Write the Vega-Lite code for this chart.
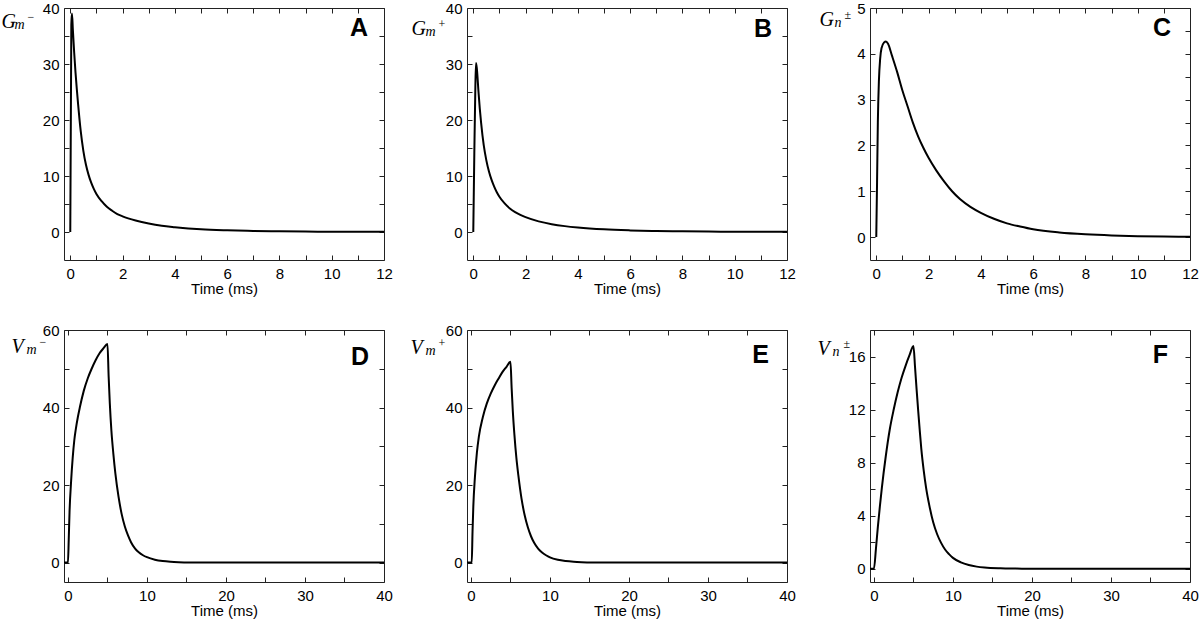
{
  "$schema": "https://vega.github.io/schema/vega-lite/v6.json",
  "background": "white",
  "padding": 0,
  "bounds": "flush",
  "columns": 3,
  "spacing": {"row": 70, "column": 83},
  "config": {
    "view": {"stroke": "#222", "strokeWidth": 1},
    "axis": {"domain": false, "grid": false, "ticks": true, "tickSize": -5, "tickColor": "#222", "tickWidth": 1,
      "labelFont": "Liberation Sans", "labelFontSize": 15, "labelColor": "black", "labelFlush": false, "labelOverlap": false, "titleColor": "black"},
    "axisBottom": {"labelPadding": 11, "titlePadding": 0, "titleFont": "Liberation Sans", "titleFontSize": 15, "titleFontWeight": "normal"},
    "axisLeft": {"labelPadding": 10}
  },
  "datasets": {
    "A": [{"t":0,"v":0},{"t":0.04,"v":37},{"t":0.065,"v":39},{"t":0.1,"v":36},{"t":0.15,"v":32},{"t":0.2,"v":28.5},{"t":0.25,"v":25.5},{"t":0.3,"v":22.8},{"t":0.4,"v":18},{"t":0.5,"v":14.5},{"t":0.6,"v":12},{"t":0.7,"v":10.2},{"t":0.8,"v":8.8},{"t":0.9,"v":7.7},{"t":1.0,"v":6.8},{"t":1.2,"v":5.5},{"t":1.4,"v":4.5},{"t":1.6,"v":3.8},{"t":1.8,"v":3.2},{"t":2.0,"v":2.8},{"t":2.5,"v":2.05},{"t":3.0,"v":1.5},{"t":3.5,"v":1.1},{"t":4.0,"v":0.85},{"t":5,"v":0.48},{"t":6,"v":0.3},{"t":7,"v":0.19},{"t":8,"v":0.12},{"t":9,"v":0.08},{"t":10,"v":0.05},{"t":11,"v":0.035},{"t":12,"v":0.025}],
    "B": [{"t":0,"v":0},{"t":0.04,"v":14},{"t":0.08,"v":26},{"t":0.105,"v":30.2},{"t":0.14,"v":29},{"t":0.2,"v":25},{"t":0.25,"v":22},{"t":0.3,"v":19.5},{"t":0.4,"v":15.5},{"t":0.5,"v":12.8},{"t":0.6,"v":10.8},{"t":0.7,"v":9.3},{"t":0.8,"v":8.1},{"t":0.9,"v":7.1},{"t":1.0,"v":6.3},{"t":1.2,"v":5.1},{"t":1.4,"v":4.2},{"t":1.6,"v":3.55},{"t":1.8,"v":3.05},{"t":2.0,"v":2.65},{"t":2.5,"v":1.9},{"t":3,"v":1.4},{"t":3.5,"v":1.05},{"t":4,"v":0.8},{"t":5,"v":0.47},{"t":6,"v":0.29},{"t":7,"v":0.18},{"t":8,"v":0.12},{"t":9,"v":0.08},{"t":10,"v":0.05},{"t":11,"v":0.035},{"t":12,"v":0.025}],
    "C": [{"t":0,"v":0},{"t":0.03,"v":1.2},{"t":0.06,"v":2.5},{"t":0.1,"v":3.4},{"t":0.15,"v":3.9},{"t":0.2,"v":4.12},{"t":0.3,"v":4.25},{"t":0.37,"v":4.27},{"t":0.45,"v":4.22},{"t":0.6,"v":3.96},{"t":0.8,"v":3.6},{"t":1.0,"v":3.2},{"t":1.2,"v":2.85},{"t":1.4,"v":2.5},{"t":1.6,"v":2.2},{"t":1.8,"v":1.95},{"t":2.0,"v":1.73},{"t":2.3,"v":1.45},{"t":2.6,"v":1.21},{"t":2.9,"v":1.0},{"t":3.2,"v":0.83},{"t":3.6,"v":0.66},{"t":4.0,"v":0.53},{"t":4.5,"v":0.4},{"t":5,"v":0.3},{"t":5.5,"v":0.23},{"t":6,"v":0.17},{"t":7,"v":0.1},{"t":8,"v":0.06},{"t":9,"v":0.035},{"t":10,"v":0.02},{"t":11,"v":0.012},{"t":12,"v":0.007}],
    "D": [{"t":-0.5,"v":0},{"t":0,"v":0},{"t":0.1,"v":6},{"t":0.2,"v":13},{"t":0.4,"v":21},{"t":0.6,"v":27},{"t":0.8,"v":31.5},{"t":1.0,"v":34.5},{"t":1.25,"v":37.5},{"t":1.5,"v":40},{"t":2.0,"v":44.3},{"t":2.5,"v":47.5},{"t":3.0,"v":50},{"t":3.5,"v":52.2},{"t":4.0,"v":54},{"t":4.5,"v":55.3},{"t":5.0,"v":56.4},{"t":5.15,"v":48},{"t":5.3,"v":41},{"t":5.5,"v":34},{"t":5.75,"v":28},{"t":6.0,"v":23},{"t":6.4,"v":17},{"t":6.8,"v":12.5},{"t":7.2,"v":9.3},{"t":7.6,"v":7},{"t":8,"v":5.2},{"t":8.5,"v":3.6},{"t":9,"v":2.6},{"t":9.5,"v":1.9},{"t":10,"v":1.4},{"t":11,"v":0.75},{"t":12,"v":0.4},{"t":13,"v":0.22},{"t":14,"v":0.12},{"t":16,"v":0.04},{"t":18,"v":0.012},{"t":20,"v":0.004},{"t":25,"v":0},{"t":30,"v":0},{"t":35,"v":0},{"t":40,"v":0}],
    "E": [{"t":-0.5,"v":0},{"t":0.1,"v":0},{"t":0.2,"v":8},{"t":0.3,"v":14.5},{"t":0.5,"v":22},{"t":0.75,"v":28.3},{"t":1.0,"v":32.5},{"t":1.5,"v":37.5},{"t":2.0,"v":41},{"t":2.5,"v":43.6},{"t":3.0,"v":45.7},{"t":3.5,"v":47.5},{"t":4.0,"v":49.2},{"t":4.5,"v":50.5},{"t":5.0,"v":51.8},{"t":5.15,"v":45},{"t":5.3,"v":39},{"t":5.5,"v":33},{"t":5.75,"v":27},{"t":6.0,"v":22.5},{"t":6.4,"v":16.5},{"t":6.8,"v":12.2},{"t":7.2,"v":9.1},{"t":7.6,"v":6.8},{"t":8,"v":5.1},{"t":8.5,"v":3.6},{"t":9,"v":2.6},{"t":9.5,"v":1.9},{"t":10,"v":1.35},{"t":11,"v":0.72},{"t":12,"v":0.4},{"t":13,"v":0.22},{"t":14,"v":0.12},{"t":16,"v":0.04},{"t":18,"v":0.012},{"t":20,"v":0.004},{"t":25,"v":0},{"t":30,"v":0},{"t":35,"v":0},{"t":40,"v":0}],
    "F": [{"t":-0.5,"v":0},{"t":0,"v":0},{"t":0.25,"v":1.5},{"t":0.5,"v":3.2},{"t":0.75,"v":4.7},{"t":1.0,"v":6.1},{"t":1.5,"v":8.5},{"t":2.0,"v":10.5},{"t":2.5,"v":12.0},{"t":3.0,"v":13.3},{"t":3.5,"v":14.4},{"t":4.0,"v":15.3},{"t":4.5,"v":16.1},{"t":5.0,"v":16.8},{"t":5.2,"v":15.2},{"t":5.4,"v":13.5},{"t":5.6,"v":11.9},{"t":5.8,"v":10.4},{"t":6.0,"v":9.0},{"t":6.3,"v":7.4},{"t":6.6,"v":6.1},{"t":7.0,"v":4.8},{"t":7.5,"v":3.5},{"t":8,"v":2.6},{"t":8.5,"v":1.95},{"t":9,"v":1.45},{"t":9.5,"v":1.1},{"t":10,"v":0.82},{"t":11,"v":0.48},{"t":12,"v":0.28},{"t":13,"v":0.16},{"t":14,"v":0.09},{"t":16,"v":0.03},{"t":18,"v":0.01},{"t":20,"v":0},{"t":30,"v":0},{"t":40,"v":0}]
  },
  "concat": [
    {
      "width": 320, "height": 252,
      "data": {"name": "A"},
      "title": {"text": "A", "anchor": "end", "frame": "group", "offset": 0, "dx": -16, "dy": 60, "baseline": "alphabetic", "fontSize": 25, "font": "Liberation Sans", "fontWeight": "bold", "color": "black"},
      "layer": [
        {"mark": {"type": "line", "color": "black", "strokeWidth": 2, "interpolate": "monotone"},
         "encoding": {
           "x": {"field": "t", "type": "quantitative", "scale": {"domain": [-0.24, 12], "nice": false, "zero": false},
             "axis": {"orient": "bottom", "values": [0,1,2,3,4,5,6,7,8,9,10,11,12], "format": "d", "labelExpr": "datum.value % 2 === 0 ? datum.label : ''", "title": "Time (ms)"}},
           "y": {"field": "v", "type": "quantitative", "scale": {"domain": [-5, 40], "nice": false, "zero": false},
             "axis": {"orient": "left", "values": [0,5,10,15,20,25,30,35,40], "format": "d", "labelExpr": "datum.value % 10 === 0 ? datum.label : ''", "title": "G", "titleX": -63, "titleY": 19, "titleAngle": 0, "titleAlign": "left", "titleBaseline": "alphabetic", "titleFont": "Liberation Serif", "titleFontStyle": "italic", "titleFontSize": 20, "titleFontWeight": "normal"}}
         }},
        {"mark": {"type": "line", "opacity": 0},
         "encoding": {
           "x": {"field": "t", "type": "quantitative", "scale": {"domain": [-0.24, 12], "nice": false, "zero": false},
             "axis": {"orient": "top", "values": [0,1,2,3,4,5,6,7,8,9,10,11,12], "labels": false, "title": "−", "titleX": -37, "titleY": 8, "titleAngle": 0, "titleAlign": "left", "titleBaseline": "middle", "titleFont": "Liberation Serif", "titleFontSize": 12, "titleFontWeight": "normal"}},
           "y": {"field": "v", "type": "quantitative", "scale": {"domain": [-5, 40], "nice": false, "zero": false},
             "axis": {"orient": "right", "values": [0,5,10,15,20,25,30,35,40], "labels": false, "title": "m", "titleX": -370, "titleY": 20, "titleAngle": 0, "titleAlign": "left", "titleBaseline": "alphabetic", "titleFont": "Liberation Serif", "titleFontStyle": "italic", "titleFontSize": 14, "titleFontWeight": "normal"}}
         }}
      ],
      "resolve": {"axis": {"x": "independent", "y": "independent"}}
    },
    {
      "width": 320, "height": 252,
      "data": {"name": "B"},
      "title": {"text": "B", "anchor": "end", "frame": "group", "offset": 0, "dx": -15, "dy": 61, "baseline": "alphabetic", "fontSize": 25, "font": "Liberation Sans", "fontWeight": "bold", "color": "black"},
      "layer": [
        {"mark": {"type": "line", "color": "black", "strokeWidth": 2, "interpolate": "monotone"},
         "encoding": {
           "x": {"field": "t", "type": "quantitative", "scale": {"domain": [-0.24, 12], "nice": false, "zero": false},
             "axis": {"orient": "bottom", "values": [0,1,2,3,4,5,6,7,8,9,10,11,12], "format": "d", "labelExpr": "datum.value % 2 === 0 ? datum.label : ''", "title": "Time (ms)"}},
           "y": {"field": "v", "type": "quantitative", "scale": {"domain": [-5, 40], "nice": false, "zero": false},
             "axis": {"orient": "left", "values": [0,5,10,15,20,25,30,35,40], "format": "d", "labelExpr": "datum.value % 10 === 0 ? datum.label : ''", "title": "G", "titleX": -56, "titleY": 26, "titleAngle": 0, "titleAlign": "left", "titleBaseline": "alphabetic", "titleFont": "Liberation Serif", "titleFontStyle": "italic", "titleFontSize": 20, "titleFontWeight": "normal"}}
         }},
        {"mark": {"type": "line", "opacity": 0},
         "encoding": {
           "x": {"field": "t", "type": "quantitative", "scale": {"domain": [-0.24, 12], "nice": false, "zero": false},
             "axis": {"orient": "top", "values": [0,1,2,3,4,5,6,7,8,9,10,11,12], "labels": false, "title": "+", "titleX": -29, "titleY": 15, "titleAngle": 0, "titleAlign": "left", "titleBaseline": "middle", "titleFont": "Liberation Serif", "titleFontSize": 12, "titleFontWeight": "normal"}},
           "y": {"field": "v", "type": "quantitative", "scale": {"domain": [-5, 40], "nice": false, "zero": false},
             "axis": {"orient": "right", "values": [0,5,10,15,20,25,30,35,40], "labels": false, "title": "m", "titleX": -362, "titleY": 27, "titleAngle": 0, "titleAlign": "left", "titleBaseline": "alphabetic", "titleFont": "Liberation Serif", "titleFontStyle": "italic", "titleFontSize": 14, "titleFontWeight": "normal"}}
         }}
      ],
      "resolve": {"axis": {"x": "independent", "y": "independent"}}
    },
    {
      "width": 320, "height": 252,
      "data": {"name": "C"},
      "title": {"text": "C", "anchor": "end", "frame": "group", "offset": 0, "dx": -19, "dy": 60, "baseline": "alphabetic", "fontSize": 25, "font": "Liberation Sans", "fontWeight": "bold", "color": "black"},
      "layer": [
        {"mark": {"type": "line", "color": "black", "strokeWidth": 2, "interpolate": "monotone"},
         "encoding": {
           "x": {"field": "t", "type": "quantitative", "scale": {"domain": [-0.24, 12], "nice": false, "zero": false},
             "axis": {"orient": "bottom", "values": [0,1,2,3,4,5,6,7,8,9,10,11,12], "format": "d", "labelExpr": "datum.value % 2 === 0 ? datum.label : ''", "title": "Time (ms)"}},
           "y": {"field": "v", "type": "quantitative", "scale": {"domain": [-0.5, 5], "nice": false, "zero": false},
             "axis": {"orient": "left", "values": [0,0.5,1,1.5,2,2.5,3,3.5,4,4.5,5], "format": "d", "labelExpr": "datum.value % 1 === 0 ? datum.label : ''", "title": "G", "titleX": -51, "titleY": 17, "titleAngle": 0, "titleAlign": "left", "titleBaseline": "alphabetic", "titleFont": "Liberation Serif", "titleFontStyle": "italic", "titleFontSize": 20, "titleFontWeight": "normal"}}
         }},
        {"mark": {"type": "line", "opacity": 0},
         "encoding": {
           "x": {"field": "t", "type": "quantitative", "scale": {"domain": [-0.24, 12], "nice": false, "zero": false},
             "axis": {"orient": "top", "values": [0,1,2,3,4,5,6,7,8,9,10,11,12], "labels": false, "title": "±", "titleX": -26, "titleY": 6, "titleAngle": 0, "titleAlign": "left", "titleBaseline": "middle", "titleFont": "Liberation Serif", "titleFontSize": 12, "titleFontWeight": "normal"}},
           "y": {"field": "v", "type": "quantitative", "scale": {"domain": [-0.5, 5], "nice": false, "zero": false},
             "axis": {"orient": "right", "values": [0,0.5,1,1.5,2,2.5,3,3.5,4,4.5,5], "labels": false, "title": "n", "titleX": -356, "titleY": 18, "titleAngle": 0, "titleAlign": "left", "titleBaseline": "alphabetic", "titleFont": "Liberation Serif", "titleFontStyle": "italic", "titleFontSize": 14, "titleFontWeight": "normal"}}
         }}
      ],
      "resolve": {"axis": {"x": "independent", "y": "independent"}}
    },
    {
      "width": 320, "height": 252,
      "data": {"name": "D"},
      "title": {"text": "D", "anchor": "end", "frame": "group", "offset": 0, "dx": -15, "dy": 67, "baseline": "alphabetic", "fontSize": 25, "font": "Liberation Sans", "fontWeight": "bold", "color": "black"},
      "layer": [
        {"mark": {"type": "line", "color": "black", "strokeWidth": 2, "interpolate": "monotone"},
         "encoding": {
           "x": {"field": "t", "type": "quantitative", "scale": {"domain": [-0.5, 40], "nice": false, "zero": false},
             "axis": {"orient": "bottom", "values": [0,5,10,15,20,25,30,35,40], "format": "d", "labelExpr": "datum.value % 10 === 0 ? datum.label : ''", "title": "Time (ms)"}},
           "y": {"field": "v", "type": "quantitative", "scale": {"domain": [-5, 60], "nice": false, "zero": false},
             "axis": {"orient": "left", "values": [0,10,20,30,40,50,60], "format": "d", "labelExpr": "datum.value % 20 === 0 ? datum.label : ''", "title": "V", "titleX": -53, "titleY": 22, "titleAngle": 0, "titleAlign": "left", "titleBaseline": "alphabetic", "titleFont": "Liberation Serif", "titleFontStyle": "italic", "titleFontSize": 20, "titleFontWeight": "normal"}}
         }},
        {"mark": {"type": "line", "opacity": 0},
         "encoding": {
           "x": {"field": "t", "type": "quantitative", "scale": {"domain": [-0.5, 40], "nice": false, "zero": false},
             "axis": {"orient": "top", "values": [0,5,10,15,20,25,30,35,40], "labels": false, "title": "−", "titleX": -25, "titleY": 11, "titleAngle": 0, "titleAlign": "left", "titleBaseline": "middle", "titleFont": "Liberation Serif", "titleFontSize": 12, "titleFontWeight": "normal"}},
           "y": {"field": "v", "type": "quantitative", "scale": {"domain": [-5, 60], "nice": false, "zero": false},
             "axis": {"orient": "right", "values": [0,10,20,30,40,50,60], "labels": false, "title": "m", "titleX": -358, "titleY": 23, "titleAngle": 0, "titleAlign": "left", "titleBaseline": "alphabetic", "titleFont": "Liberation Serif", "titleFontStyle": "italic", "titleFontSize": 14, "titleFontWeight": "normal"}}
         }}
      ],
      "resolve": {"axis": {"x": "independent", "y": "independent"}}
    },
    {
      "width": 320, "height": 252,
      "data": {"name": "E"},
      "title": {"text": "E", "anchor": "end", "frame": "group", "offset": 0, "dx": -18, "dy": 65, "baseline": "alphabetic", "fontSize": 25, "font": "Liberation Sans", "fontWeight": "bold", "color": "black"},
      "layer": [
        {"mark": {"type": "line", "color": "black", "strokeWidth": 2, "interpolate": "monotone"},
         "encoding": {
           "x": {"field": "t", "type": "quantitative", "scale": {"domain": [-0.5, 40], "nice": false, "zero": false},
             "axis": {"orient": "bottom", "values": [0,5,10,15,20,25,30,35,40], "format": "d", "labelExpr": "datum.value % 10 === 0 ? datum.label : ''", "title": "Time (ms)"}},
           "y": {"field": "v", "type": "quantitative", "scale": {"domain": [-5, 60], "nice": false, "zero": false},
             "axis": {"orient": "left", "values": [0,10,20,30,40,50,60], "format": "d", "labelExpr": "datum.value % 20 === 0 ? datum.label : ''", "title": "V", "titleX": -57, "titleY": 23, "titleAngle": 0, "titleAlign": "left", "titleBaseline": "alphabetic", "titleFont": "Liberation Serif", "titleFontStyle": "italic", "titleFontSize": 20, "titleFontWeight": "normal"}}
         }},
        {"mark": {"type": "line", "opacity": 0},
         "encoding": {
           "x": {"field": "t", "type": "quantitative", "scale": {"domain": [-0.5, 40], "nice": false, "zero": false},
             "axis": {"orient": "top", "values": [0,5,10,15,20,25,30,35,40], "labels": false, "title": "+", "titleX": -29, "titleY": 12, "titleAngle": 0, "titleAlign": "left", "titleBaseline": "middle", "titleFont": "Liberation Serif", "titleFontSize": 12, "titleFontWeight": "normal"}},
           "y": {"field": "v", "type": "quantitative", "scale": {"domain": [-5, 60], "nice": false, "zero": false},
             "axis": {"orient": "right", "values": [0,10,20,30,40,50,60], "labels": false, "title": "m", "titleX": -362, "titleY": 24, "titleAngle": 0, "titleAlign": "left", "titleBaseline": "alphabetic", "titleFont": "Liberation Serif", "titleFontStyle": "italic", "titleFontSize": 14, "titleFontWeight": "normal"}}
         }}
      ],
      "resolve": {"axis": {"x": "independent", "y": "independent"}}
    },
    {
      "width": 320, "height": 252,
      "data": {"name": "F"},
      "title": {"text": "F", "anchor": "end", "frame": "group", "offset": 0, "dx": -22, "dy": 65, "baseline": "alphabetic", "fontSize": 25, "font": "Liberation Sans", "fontWeight": "bold", "color": "black"},
      "layer": [
        {"mark": {"type": "line", "color": "black", "strokeWidth": 2, "interpolate": "monotone"},
         "encoding": {
           "x": {"field": "t", "type": "quantitative", "scale": {"domain": [-0.5, 40], "nice": false, "zero": false},
             "axis": {"orient": "bottom", "values": [0,5,10,15,20,25,30,35,40], "format": "d", "labelExpr": "datum.value % 10 === 0 ? datum.label : ''", "title": "Time (ms)"}},
           "y": {"field": "v", "type": "quantitative", "scale": {"domain": [-1, 18], "nice": false, "zero": false},
             "axis": {"orient": "left", "values": [0,2,4,6,8,10,12,14,16,18], "format": "d", "labelExpr": "datum.value % 4 === 0 ? datum.label : ''", "title": "V", "titleX": -53, "titleY": 24, "titleAngle": 0, "titleAlign": "left", "titleBaseline": "alphabetic", "titleFont": "Liberation Serif", "titleFontStyle": "italic", "titleFontSize": 20, "titleFontWeight": "normal"}}
         }},
        {"mark": {"type": "line", "opacity": 0},
         "encoding": {
           "x": {"field": "t", "type": "quantitative", "scale": {"domain": [-0.5, 40], "nice": false, "zero": false},
             "axis": {"orient": "top", "values": [0,5,10,15,20,25,30,35,40], "labels": false, "title": "±", "titleX": -27, "titleY": 13, "titleAngle": 0, "titleAlign": "left", "titleBaseline": "middle", "titleFont": "Liberation Serif", "titleFontSize": 12, "titleFontWeight": "normal"}},
           "y": {"field": "v", "type": "quantitative", "scale": {"domain": [-1, 18], "nice": false, "zero": false},
             "axis": {"orient": "right", "values": [0,2,4,6,8,10,12,14,16,18], "labels": false, "title": "n", "titleX": -358, "titleY": 25, "titleAngle": 0, "titleAlign": "left", "titleBaseline": "alphabetic", "titleFont": "Liberation Serif", "titleFontStyle": "italic", "titleFontSize": 14, "titleFontWeight": "normal"}}
         }}
      ],
      "resolve": {"axis": {"x": "independent", "y": "independent"}}
    }
  ]
}
